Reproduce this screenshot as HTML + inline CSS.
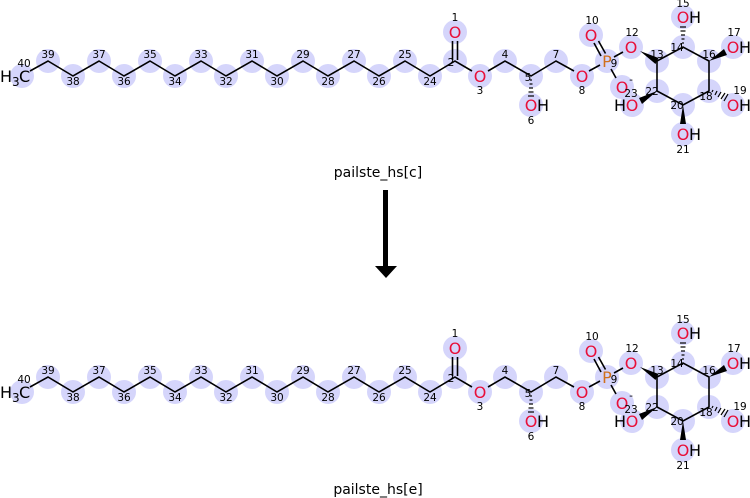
<!DOCTYPE html>
<html><head><meta charset="utf-8"><style>
html,body{margin:0;padding:0;background:#fff;}
svg{display:block;font-family:"DejaVu Sans","Liberation Sans",sans-serif;}
.c{fill:#d5d5fb;}
.b{stroke:#000;stroke-width:1.6;fill:none;}
.n{font-size:10.5px;fill:#000;text-anchor:middle;}
.o{font-size:16px;fill:#e8103a;text-anchor:middle;}
.h{font-size:16px;fill:#000;}
.p{font-size:16px;fill:#d0701c;text-anchor:middle;}
.t{font-size:14px;fill:#000;text-anchor:middle;}
</style></head><body>
<svg width="750" height="498" viewBox="0 0 750 498">
<g id="m1">
<g class="c">
<circle cx="22" cy="76" r="12"/><circle cx="48" cy="61" r="12"/><circle cx="73" cy="76" r="12"/><circle cx="99" cy="61" r="12"/><circle cx="124" cy="76" r="12"/><circle cx="150" cy="61" r="12"/><circle cx="175" cy="76" r="12"/><circle cx="201" cy="61" r="12"/><circle cx="226" cy="76" r="12"/><circle cx="252" cy="61" r="12"/><circle cx="277" cy="76" r="12"/><circle cx="303" cy="61" r="12"/><circle cx="328" cy="76" r="12"/><circle cx="354" cy="61" r="12"/><circle cx="379" cy="76" r="12"/><circle cx="405" cy="61" r="12"/><circle cx="430" cy="76" r="12"/><circle cx="455" cy="61" r="12"/><circle cx="455" cy="32" r="12"/><circle cx="480" cy="76" r="12"/><circle cx="505" cy="61" r="12"/><circle cx="531" cy="76" r="12"/><circle cx="531" cy="105" r="12"/><circle cx="556" cy="61" r="12"/><circle cx="582" cy="76" r="12"/><circle cx="607" cy="61" r="12"/><circle cx="591" cy="35" r="12"/><circle cx="622" cy="87" r="12"/><circle cx="631" cy="47" r="12"/><circle cx="657" cy="61" r="12"/><circle cx="683" cy="47" r="12"/><circle cx="709" cy="61" r="12"/><circle cx="709" cy="91" r="12"/><circle cx="683" cy="105" r="12"/><circle cx="657" cy="91" r="12"/><circle cx="683" cy="17" r="12"/><circle cx="733" cy="47" r="12"/><circle cx="733" cy="105" r="12"/><circle cx="683" cy="134" r="12"/><circle cx="632" cy="105" r="12"/>
</g>
<polyline class="b" points="30,71 48,61 73,76 99,61 124,76 150,61 175,76 201,61 226,76 252,61 277,76 303,61 328,76 354,61 379,76 405,61 430,76 455,61 472,71"/>
<polyline class="b" points="488,71 505,61 531,76 556,61 574,71"/>
<line class="b" x1="589" y1="71" x2="600" y2="65"/>
<line class="b" x1="452.5" y1="60" x2="452.5" y2="41"/><line class="b" x1="457.5" y1="60" x2="457.5" y2="41"/>
<line class="b" x1="601" y1="56" x2="594" y2="43"/><line class="b" x1="605.5" y1="53.5" x2="598.5" y2="41"/>
<line class="b" x1="614" y1="57" x2="623" y2="52"/>
<line class="b" x1="611" y1="69" x2="616" y2="78"/>
<polygon class="b" style="fill:none" points="657,61 683,47 709,61 709,91 683,105 657,91"/>
<polygon points="640,51 658.5,58 655.5,64"/>
<polygon points="709,61 724,49 727,55"/>
<polygon points="683,105 680,124 686,124"/>
<polygon points="657,91 639,98 642,104"/>
<g stroke="#000" stroke-width="1.2">
<line x1="530" y1="80" x2="532" y2="80"/><line x1="529.5" y1="84" x2="532.5" y2="84"/><line x1="529" y1="88" x2="533" y2="88"/><line x1="528.5" y1="92" x2="533.5" y2="92"/><line x1="528" y1="96" x2="534" y2="96"/>
<line x1="682" y1="43" x2="684" y2="43"/><line x1="681.5" y1="39" x2="684.5" y2="39"/><line x1="681" y1="35" x2="685" y2="35"/><line x1="680.5" y1="31" x2="685.5" y2="31"/><line x1="680" y1="27" x2="686" y2="27"/>
<line x1="712" y1="92" x2="713" y2="90"/><line x1="715" y1="95" x2="717" y2="91"/><line x1="718" y1="97" x2="721" y2="92"/><line x1="721" y1="99" x2="725" y2="93"/><line x1="724" y1="101" x2="728" y2="94"/>
</g>
<text x="0" y="82" class="h">H</text><text x="12" y="86" class="h" style="font-size:12px">3</text><text x="19" y="82" class="h">C</text>
<text x="455" y="38" class="o">O</text><text x="480" y="82" class="o">O</text><text x="582" y="82" class="o">O</text><text x="591" y="41" class="o">O</text><text x="622" y="93" class="o">O</text><text x="631" y="53" class="o">O</text>
<text x="531" y="111" class="o">O</text><text x="537" y="111" class="h">H</text>
<text x="683" y="23" class="o">O</text><text x="689" y="23" class="h">H</text>
<text x="733" y="53" class="o">O</text><text x="739" y="53" class="h">H</text>
<text x="733" y="111" class="o">O</text><text x="739" y="111" class="h">H</text>
<text x="683" y="140" class="o">O</text><text x="689" y="140" class="h">H</text>
<text x="614" y="111" class="h">H</text><text x="632" y="111" class="o">O</text>
<text x="607" y="67" class="p">P</text>
<text x="631" y="83" class="n">-</text>
<g class="n">
<text x="24" y="67">40</text><text x="48" y="58">39</text><text x="73" y="85">38</text><text x="99" y="58">37</text><text x="124" y="85">36</text><text x="150" y="58">35</text><text x="175" y="85">34</text><text x="201" y="58">33</text><text x="226" y="85">32</text><text x="252" y="58">31</text><text x="277" y="85">30</text><text x="303" y="58">29</text><text x="328" y="85">28</text><text x="354" y="58">27</text><text x="379" y="85">26</text><text x="405" y="58">25</text><text x="430" y="85">24</text>
<text x="455" y="21">1</text><text x="451" y="66">2</text><text x="480" y="94">3</text><text x="505" y="58">4</text><text x="528" y="81">5</text><text x="531" y="124">6</text><text x="556" y="58">7</text><text x="582" y="94">8</text><text x="614" y="67">9</text><text x="592" y="24">10</text><text x="632" y="36">12</text><text x="657" y="58">13</text><text x="677" y="51">14</text><text x="683" y="7">15</text><text x="709" y="58">16</text><text x="734" y="36">17</text><text x="706" y="100">18</text><text x="740" y="94">19</text><text x="677" y="109">20</text><text x="683" y="153">21</text><text x="652" y="95">22</text><text x="631" y="97">23</text>
</g>
</g>
<text x="378" y="177" class="t">pailste_hs[c]</text>
<rect x="383" y="190" width="5" height="78" fill="#000"/>
<polygon points="375,266 397,266 386,278" fill="#000"/>
<g transform="translate(0,316)">
<g class="c">
<circle cx="22" cy="76" r="12"/><circle cx="48" cy="61" r="12"/><circle cx="73" cy="76" r="12"/><circle cx="99" cy="61" r="12"/><circle cx="124" cy="76" r="12"/><circle cx="150" cy="61" r="12"/><circle cx="175" cy="76" r="12"/><circle cx="201" cy="61" r="12"/><circle cx="226" cy="76" r="12"/><circle cx="252" cy="61" r="12"/><circle cx="277" cy="76" r="12"/><circle cx="303" cy="61" r="12"/><circle cx="328" cy="76" r="12"/><circle cx="354" cy="61" r="12"/><circle cx="379" cy="76" r="12"/><circle cx="405" cy="61" r="12"/><circle cx="430" cy="76" r="12"/><circle cx="455" cy="61" r="12"/><circle cx="455" cy="32" r="12"/><circle cx="480" cy="76" r="12"/><circle cx="505" cy="61" r="12"/><circle cx="531" cy="76" r="12"/><circle cx="531" cy="105" r="12"/><circle cx="556" cy="61" r="12"/><circle cx="582" cy="76" r="12"/><circle cx="607" cy="61" r="12"/><circle cx="591" cy="35" r="12"/><circle cx="622" cy="87" r="12"/><circle cx="631" cy="47" r="12"/><circle cx="657" cy="61" r="12"/><circle cx="683" cy="47" r="12"/><circle cx="709" cy="61" r="12"/><circle cx="709" cy="91" r="12"/><circle cx="683" cy="105" r="12"/><circle cx="657" cy="91" r="12"/><circle cx="683" cy="17" r="12"/><circle cx="733" cy="47" r="12"/><circle cx="733" cy="105" r="12"/><circle cx="683" cy="134" r="12"/><circle cx="632" cy="105" r="12"/>
</g>
<polyline class="b" points="30,71 48,61 73,76 99,61 124,76 150,61 175,76 201,61 226,76 252,61 277,76 303,61 328,76 354,61 379,76 405,61 430,76 455,61 472,71"/>
<polyline class="b" points="488,71 505,61 531,76 556,61 574,71"/>
<line class="b" x1="589" y1="71" x2="600" y2="65"/>
<line class="b" x1="452.5" y1="60" x2="452.5" y2="41"/><line class="b" x1="457.5" y1="60" x2="457.5" y2="41"/>
<line class="b" x1="601" y1="56" x2="594" y2="43"/><line class="b" x1="605.5" y1="53.5" x2="598.5" y2="41"/>
<line class="b" x1="614" y1="57" x2="623" y2="52"/>
<line class="b" x1="611" y1="69" x2="616" y2="78"/>
<polygon class="b" style="fill:none" points="657,61 683,47 709,61 709,91 683,105 657,91"/>
<polygon points="640,51 658.5,58 655.5,64"/>
<polygon points="709,61 724,49 727,55"/>
<polygon points="683,105 680,124 686,124"/>
<polygon points="657,91 639,98 642,104"/>
<g stroke="#000" stroke-width="1.2">
<line x1="530" y1="80" x2="532" y2="80"/><line x1="529.5" y1="84" x2="532.5" y2="84"/><line x1="529" y1="88" x2="533" y2="88"/><line x1="528.5" y1="92" x2="533.5" y2="92"/><line x1="528" y1="96" x2="534" y2="96"/>
<line x1="682" y1="43" x2="684" y2="43"/><line x1="681.5" y1="39" x2="684.5" y2="39"/><line x1="681" y1="35" x2="685" y2="35"/><line x1="680.5" y1="31" x2="685.5" y2="31"/><line x1="680" y1="27" x2="686" y2="27"/>
<line x1="712" y1="92" x2="713" y2="90"/><line x1="715" y1="95" x2="717" y2="91"/><line x1="718" y1="97" x2="721" y2="92"/><line x1="721" y1="99" x2="725" y2="93"/><line x1="724" y1="101" x2="728" y2="94"/>
</g>
<text x="0" y="82" class="h">H</text><text x="12" y="86" class="h" style="font-size:12px">3</text><text x="19" y="82" class="h">C</text>
<text x="455" y="38" class="o">O</text><text x="480" y="82" class="o">O</text><text x="582" y="82" class="o">O</text><text x="591" y="41" class="o">O</text><text x="622" y="93" class="o">O</text><text x="631" y="53" class="o">O</text>
<text x="531" y="111" class="o">O</text><text x="537" y="111" class="h">H</text>
<text x="683" y="23" class="o">O</text><text x="689" y="23" class="h">H</text>
<text x="733" y="53" class="o">O</text><text x="739" y="53" class="h">H</text>
<text x="733" y="111" class="o">O</text><text x="739" y="111" class="h">H</text>
<text x="683" y="140" class="o">O</text><text x="689" y="140" class="h">H</text>
<text x="614" y="111" class="h">H</text><text x="632" y="111" class="o">O</text>
<text x="607" y="67" class="p">P</text>
<text x="631" y="83" class="n">-</text>
<g class="n">
<text x="24" y="67">40</text><text x="48" y="58">39</text><text x="73" y="85">38</text><text x="99" y="58">37</text><text x="124" y="85">36</text><text x="150" y="58">35</text><text x="175" y="85">34</text><text x="201" y="58">33</text><text x="226" y="85">32</text><text x="252" y="58">31</text><text x="277" y="85">30</text><text x="303" y="58">29</text><text x="328" y="85">28</text><text x="354" y="58">27</text><text x="379" y="85">26</text><text x="405" y="58">25</text><text x="430" y="85">24</text>
<text x="455" y="21">1</text><text x="451" y="66">2</text><text x="480" y="94">3</text><text x="505" y="58">4</text><text x="528" y="81">5</text><text x="531" y="124">6</text><text x="556" y="58">7</text><text x="582" y="94">8</text><text x="614" y="67">9</text><text x="592" y="24">10</text><text x="632" y="36">12</text><text x="657" y="58">13</text><text x="677" y="51">14</text><text x="683" y="7">15</text><text x="709" y="58">16</text><text x="734" y="36">17</text><text x="706" y="100">18</text><text x="740" y="94">19</text><text x="677" y="109">20</text><text x="683" y="153">21</text><text x="652" y="95">22</text><text x="631" y="97">23</text>
</g>
</g>
<text x="378" y="494" class="t">pailste_hs[e]</text>
</svg>
</body></html>
